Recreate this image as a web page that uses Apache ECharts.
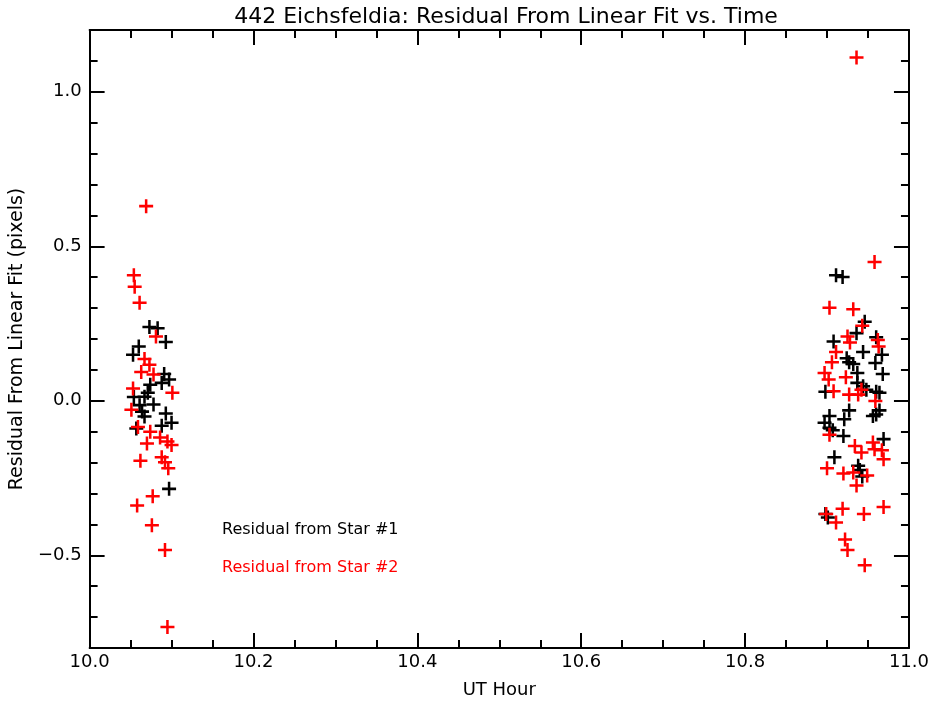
<!DOCTYPE html>
<html>
<head>
<meta charset="utf-8">
<script src="https://cdn.jsdelivr.net/npm/echarts@6/dist/echarts.min.js"></script>
<style>html,body{margin:0;padding:0;background:#fff}#c{width:932px;height:704px}</style>
</head>
<body>
<div id="c"></div>
<script>
var titleText = '442 Eichsfeldia: Residual From Linear Fit vs. Time';
var xName = 'UT Hour';
var yName = 'Residual From Linear Fit (pixels)';
var legend1 = 'Residual from Star #1';
var legend2 = 'Residual from Star #2';
var yMajorTicks = [-0.5, 0.0, 0.5, 1.0];

var star1X = [10.073,10.083,10.093,10.060,10.053,10.091,10.097,10.088,10.074,10.071,10.054,10.067,10.078,10.061,10.064,10.067,10.093,10.100,10.088,10.057,10.097,
  10.911,10.919,10.946,10.936,10.908,10.960,10.944,10.967,10.924,10.927,10.932,10.959,10.937,10.968,10.937,10.944,10.948,10.898,10.960,10.964,10.927,10.903,10.964,10.960,
  10.956,10.921,10.897,10.903,10.907,10.920,10.969,10.909,10.938,10.940,10.943,10.898,10.901];
var star1Y = [0.239,0.235,0.190,0.176,0.149,0.087,0.069,0.058,0.052,0.026,0.012,0.013,-0.012,-0.014,-0.035,-0.051,-0.041,-0.071,-0.081,-0.090,-0.285,
  0.406,0.401,0.256,0.219,0.192,0.206,0.158,0.149,0.138,0.125,0.119,0.122,0.090,0.087,0.058,0.047,0.036,0.029,0.029,0.026,-0.031,-0.049,-0.031,-0.044,
  -0.049,-0.060,-0.071,-0.087,-0.095,-0.114,-0.124,-0.183,-0.210,-0.224,-0.245,-0.366,-0.378];

var star2X = [10.054,10.055,10.061,10.069,10.081,10.067,10.073,10.063,10.078,10.101,10.053,10.051,10.059,10.074,10.086,10.095,10.100,10.070,
  10.062,10.088,10.092,10.096,10.077,10.058,10.076,10.092,10.095,
  10.936,10.958,10.903,10.932,10.943,10.925,10.928,10.962,10.963,10.911,10.906,10.897,10.902,10.923,10.908,10.927,10.938,10.942,10.959,
  10.903,10.934,10.942,10.956,10.958,10.967,10.969,10.900,10.920,10.932,10.949,10.936,10.969,10.919,10.899,10.945,10.911,10.922,10.925,10.946];
var star2Y = [0.406,0.369,0.317,0.630,0.208,0.135,0.117,0.093,0.085,0.026,0.040,-0.029,-0.085,-0.100,-0.119,-0.132,-0.143,-0.138,
  -0.194,-0.183,-0.199,-0.218,-0.309,-0.339,-0.403,-0.483,-0.732,
  1.111,0.449,0.301,0.296,0.243,0.208,0.189,0.197,0.176,0.158,0.125,0.090,0.069,0.076,0.031,0.020,0.020,0.036,-0.001,
  -0.110,-0.146,-0.167,-0.135,-0.157,-0.160,-0.189,-0.218,-0.235,-0.232,-0.242,-0.274,-0.344,-0.349,-0.366,-0.366,-0.394,-0.449,-0.483,-0.532];

function pairs(xs, ys){ return xs.map(function(x,i){ return [x, ys[i]]; }); }

var FONT = 'DejaVu Sans';
var plus = 'path://M0.41,0 L0.59,0 L0.59,0.41 L1,0.41 L1,0.59 L0.59,0.59 L0.59,1 L0.41,1 L0.41,0.59 L0,0.59 L0,0.41 L0.41,0.41 Z';
var lineStyle = {color:'#000', width:2};

var chart = echarts.init(document.getElementById('c'), null, {renderer:'canvas'});
var yMin = -0.8, yMax = 1.2;
chart.setOption({
  animation:false,
  backgroundColor:'#fff',
  title:{text:titleText, left:501, top:1, textAlign:'center',
    textStyle:{fontFamily:FONT, fontSize:22, fontWeight:'normal', color:'#000'}},
  grid:{left:89, right:20, top:30, bottom:52},
  xAxis:[
    {type:'value', position:'bottom', min:10, max:11, interval:0.2,
     name:xName, nameLocation:'middle', nameGap:33,
     nameTextStyle:{fontFamily:FONT, fontSize:18, color:'#000'},
     axisLine:{show:true, onZero:false, lineStyle:lineStyle},
     axisTick:{show:true, inside:true, length:15, lineStyle:lineStyle},
     minorTick:{show:true, splitNumber:4, length:8, lineStyle:lineStyle},
     splitLine:{show:false},
     axisLabel:{fontFamily:FONT, fontSize:18, color:'#000', margin:5,
       formatter:function(v){return v.toFixed(1);}}},
    {type:'value', position:'top', min:10, max:11, interval:0.2,
     axisLine:{show:true, onZero:false, lineStyle:lineStyle},
     axisTick:{show:true, inside:true, length:15, lineStyle:lineStyle},
     minorTick:{show:true, splitNumber:4, length:8, lineStyle:lineStyle},
     splitLine:{show:false}, axisLabel:{show:false}}
  ],
  yAxis:[
    {type:'value', position:'left', min:yMin, max:yMax, interval:0.1,
     name:yName, nameLocation:'middle', nameGap:62,
     nameTextStyle:{fontFamily:FONT, fontSize:19, color:'#000'},
     axisLine:{show:true, onZero:false, lineStyle:lineStyle},
     axisTick:{show:true, inside:true, length:8, lineStyle:lineStyle},
     splitLine:{show:false},
     axisLabel:{fontFamily:FONT, fontSize:18, color:'#000', margin:8,
       formatter:function(v){ var d=v*2; if (Math.abs(d-Math.round(d))<1e-6) { var r=Math.round(v*10)/10; return (r<0?'\u2212':'')+Math.abs(r).toFixed(1);} return ''; }}},
    {type:'value', position:'left', min:yMin, max:yMax,
     axisLine:{show:false},
     axisTick:{show:true, inside:true, length:15, lineStyle:lineStyle, customValues:yMajorTicks},
     splitLine:{show:false}, axisLabel:{show:false}},
    {type:'value', position:'right', min:yMin, max:yMax, interval:0.1,
     axisLine:{show:true, onZero:false, lineStyle:lineStyle},
     axisTick:{show:true, inside:true, length:8, lineStyle:lineStyle},
     splitLine:{show:false}, axisLabel:{show:false}},
    {type:'value', position:'right', min:yMin, max:yMax,
     axisLine:{show:false},
     axisTick:{show:true, inside:true, length:15, lineStyle:lineStyle, customValues:yMajorTicks},
     splitLine:{show:false}, axisLabel:{show:false}}
  ],
  series:[
    {type:'scatter', name:legend1, xAxisIndex:0, yAxisIndex:0, data:pairs(star1X, star1Y),
     symbol:plus, symbolSize:14, itemStyle:{color:'#000', opacity:1}},
    {type:'scatter', name:legend2, xAxisIndex:0, yAxisIndex:0, data:pairs(star2X, star2Y),
     symbol:plus, symbolSize:14, itemStyle:{color:'#ff0000', opacity:1}}
  ],
  graphic:[
    {type:'text', left:222, top:522, style:{text:legend1, fill:'#000', font:'16px "DejaVu Sans"'}},
    {type:'text', left:222, top:560, style:{text:legend2, fill:'#ff0000', font:'16px "DejaVu Sans"'}}
  ]
});
</script>
</body>
</html>
